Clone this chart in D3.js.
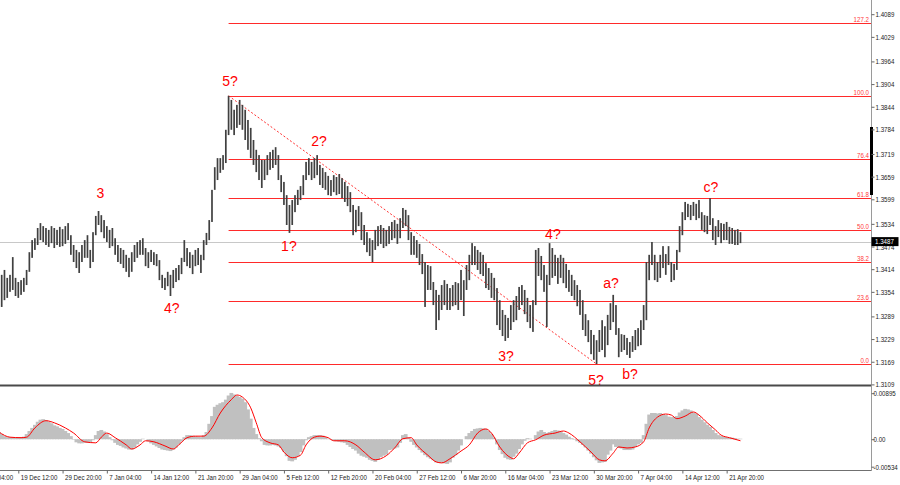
<!DOCTYPE html>
<html><head><meta charset="utf-8">
<script src="https://cdn.jsdelivr.net/npm/d3@7"></script>
<style>body{margin:0;background:#fff;}svg{display:block;font-family:"Liberation Sans",Arial,sans-serif;}</style>
</head><body><svg id="c" width="900" height="485"></svg>
<script>
// ---------- DATA ----------
const highs = [
1.3407,1.3399,1.3412,1.3391,1.3399,1.3446,1.3391,1.3380,1.3385,1.3391,
1.3412,1.3459,1.3491,1.3496,1.3523,1.3536,1.3528,1.3523,1.3518,1.3528,
1.3523,1.3518,1.3526,1.3520,1.3528,1.3536,1.3504,1.3478,1.3465,1.3459,
1.3478,1.3491,1.3504,1.3465,1.3512,1.3555,1.3568,1.3557,1.3544,1.3528,
1.3518,1.3523,1.3496,1.3478,1.3470,1.3465,1.3452,1.3444,1.3459,1.3478,
1.3486,1.3491,1.3496,1.3470,1.3459,1.3465,1.3459,1.3454,1.3438,1.3399,
1.3391,1.3407,1.3399,1.3412,1.3417,1.3425,1.3444,1.3491,1.3470,1.3459,
1.3452,1.3465,1.3470,1.3452,1.3491,1.3510,1.3544,1.3624,1.3684,1.3708,
1.3708,1.3716,1.3783,1.3873,1.3862,1.3836,1.3849,1.3862,1.3849,1.3836,
1.3809,1.3788,1.3756,1.3730,1.3716,1.3703,1.3703,1.3716,1.3724,1.3730,
1.3737,1.3716,1.3663,1.3645,1.3610,1.3584,1.3597,1.3610,1.3624,1.3634,
1.3663,1.3698,1.3708,1.3698,1.3708,1.3716,1.3690,1.3682,1.3671,1.3661,
1.3650,1.3663,1.3658,1.3666,1.3655,1.3645,1.3634,1.3618,1.3584,1.3571,
1.3581,1.3565,1.3531,1.3512,1.3496,1.3491,1.3518,1.3528,1.3531,1.3523,
1.3518,1.3528,1.3539,1.3544,1.3534,1.3549,1.3576,1.3571,1.3557,1.3512,
1.3502,1.3491,1.3481,1.3454,1.3433,1.3425,1.3422,1.3380,1.3359,1.3346,
1.3372,1.3385,1.3375,1.3364,1.3372,1.3380,1.3377,1.3412,1.3385,1.3425,
1.3452,1.3483,1.3475,1.3465,1.3459,1.3452,1.3430,1.3417,1.3404,1.3391,
1.3364,1.3332,1.3306,1.3293,1.3285,1.3319,1.3332,1.3343,1.3367,1.3372,
1.3359,1.3338,1.3319,1.3332,1.3465,1.3470,1.3449,1.3425,1.3399,1.3483,
1.3470,1.3452,1.3444,1.3452,1.3444,1.3428,1.3412,1.3399,1.3385,1.3372,
1.3359,1.3332,1.3295,1.3279,1.3253,1.3240,1.3226,1.3253,1.3279,1.3263,
1.3293,1.3324,1.3346,1.3319,1.3258,1.3242,1.3240,1.3232,1.3221,1.3237,
1.3253,1.3258,1.3279,1.3319,1.3433,1.3452,1.3486,1.3452,1.3433,1.3452,
1.3475,1.3454,1.3475,1.3433,1.3428,1.3465,1.3528,1.3565,1.3592,1.3587,
1.3584,1.3592,1.3587,1.3597,1.3565,1.3557,1.3555,1.3602,1.3549,1.3528,
1.3544,1.3536,1.3534,1.3539,1.3526,1.3523,1.3518,1.3520,1.3512];
const lows = [
1.3332,1.3314,1.3332,1.3338,1.3354,1.3359,1.3343,1.3338,1.3346,1.3354,
1.3372,1.3407,1.3444,1.3465,1.3478,1.3491,1.3486,1.3478,1.3473,1.3483,
1.3470,1.3478,1.3473,1.3475,1.3481,1.3491,1.3452,1.3433,1.3417,1.3404,
1.3433,1.3444,1.3444,1.3417,1.3433,1.3504,1.3531,1.3512,1.3496,1.3486,
1.3470,1.3475,1.3452,1.3433,1.3428,1.3417,1.3407,1.3393,1.3407,1.3433,
1.3444,1.3452,1.3452,1.3422,1.3417,1.3433,1.3425,1.3422,1.3385,1.3364,
1.3359,1.3369,1.3343,1.3364,1.3380,1.3385,1.3401,1.3433,1.3422,1.3417,
1.3401,1.3422,1.3425,1.3404,1.3438,1.3478,1.3491,1.3539,1.3624,1.3650,
1.3669,1.3677,1.3695,1.3769,1.3783,1.3769,1.3788,1.3796,1.3783,1.3756,
1.3730,1.3708,1.3690,1.3671,1.3650,1.3629,1.3650,1.3663,1.3677,1.3682,
1.3690,1.3650,1.3618,1.3584,1.3531,1.3510,1.3531,1.3565,1.3584,1.3597,
1.3610,1.3650,1.3663,1.3650,1.3655,1.3663,1.3637,1.3629,1.3624,1.3610,
1.3608,1.3618,1.3610,1.3613,1.3602,1.3592,1.3581,1.3565,1.3504,1.3512,
1.3528,1.3491,1.3478,1.3459,1.3449,1.3433,1.3465,1.3475,1.3481,1.3470,
1.3475,1.3481,1.3491,1.3496,1.3481,1.3496,1.3523,1.3528,1.3491,1.3452,
1.3452,1.3444,1.3425,1.3401,1.3314,1.3359,1.3359,1.3319,1.3253,1.3279,
1.3306,1.3319,1.3306,1.3306,1.3316,1.3319,1.3306,1.3332,1.3290,1.3359,
1.3385,1.3425,1.3425,1.3412,1.3401,1.3396,1.3364,1.3359,1.3338,1.3332,
1.3266,1.3253,1.3237,1.3224,1.3232,1.3253,1.3274,1.3279,1.3306,1.3319,
1.3295,1.3274,1.3258,1.3248,1.3319,1.3396,1.3385,1.3354,1.3261,1.3372,
1.3391,1.3396,1.3375,1.3391,1.3377,1.3364,1.3354,1.3343,1.3332,1.3316,
1.3293,1.3253,1.3237,1.3221,1.3189,1.3174,1.3163,1.3195,1.3200,1.3181,
1.3213,1.3253,1.3274,1.3240,1.3181,1.3195,1.3200,1.3187,1.3179,1.3195,
1.3200,1.3210,1.3213,1.3253,1.3279,1.3385,1.3425,1.3385,1.3380,1.3391,
1.3417,1.3399,1.3425,1.3380,1.3385,1.3412,1.3459,1.3504,1.3544,1.3552,
1.3544,1.3555,1.3544,1.3549,1.3518,1.3512,1.3507,1.3531,1.3491,1.3478,
1.3499,1.3483,1.3491,1.3491,1.3481,1.3481,1.3478,1.3478,1.3483];
const macd = [
.0014,.0010,.0006,.0004,.0004,.0004,.0004,.0004,.0004,.0005,
.0010,.0016,.0022,.0028,.0034,.0038,.0039,.0037,.0034,.0031,
.0027,.0025,.0022,.0020,.0016,.0012,.0006,-.0001,-.0006,-.0008,
-.0008,-.0007,-.0007,-.0006,-.0002,.0008,.0016,.0018,.0015,.0010,
.0004,-.0002,-.0007,-.0011,-.0013,-.0016,-.0018,-.0020,-.0020,-.0016,
-.0010,-.0005,.0001,.0000,-.0004,-.0008,-.0011,-.0014,-.0017,-.0020,
-.0021,-.0022,-.0023,-.0020,-.0016,-.0010,-.0004,.0004,.0008,.0008,
.0007,.0006,.0005,.0004,.0008,.0014,.0030,.0045,.0063,.0067,
.0070,.0072,.0077,.0085,.0090,.0087,.0084,.0082,.0079,.0072,
.0058,.0040,.0022,.0010,.0002,-.0004,-.0011,-.0012,-.0012,-.0011,
-.0012,-.0014,-.0017,-.0024,-.0033,-.0042,-.0043,-.0040,-.0033,-.0025,
-.0012,-.0002,.0004,.0006,.0008,.0008,.0008,.0007,.0004,.0001,
-.0001,-.0003,-.0004,-.0005,-.0006,-.0007,-.0011,-.0015,-.0019,-.0022,
-.0028,-.0032,-.0034,-.0036,-.0040,-.0042,-.0044,-.0040,-.0035,-.0032,
-.0030,-.0021,-.0020,-.0018,-.0016,-.0007,.0008,.0010,.0003,-.0005,
-.0011,-.0016,-.0021,-.0026,-.0031,-.0035,-.0038,-.0041,-.0045,-.0046,
-.0046,-.0047,-.0048,-.0045,-.0036,-.0031,-.0022,-.0012,.0000,.0006,
.0012,.0016,.0020,.0021,.0022,.0021,.0020,.0016,.0010,.0003,
-.0010,-.0021,-.0029,-.0036,-.0039,-.0040,-.0034,-.0028,-.0019,-.0010,
-.0003,.0002,.0001,.0000,.0008,.0015,.0018,.0014,.0012,.0014,
.0016,.0018,.0017,.0016,.0012,.0009,.0005,.0002,-.0001,-.0004,
-.0007,-.0011,-.0016,-.0022,-.0028,-.0035,-.0041,-.0046,-.0045,-.0044,
-.0030,-.0022,-.0010,-.0015,-.0017,-.0018,-.0021,-.0021,-.0021,-.0020,
-.0015,-.0010,-.0007,.0008,.0030,.0048,.0051,.0051,.0050,.0051,
.0049,.0047,.0044,.0043,.0043,.0045,.0052,.0056,.0059,.0058,
.0056,.0052,.0050,.0043,.0038,.0033,.0028,.0024,.0018,.0012,
.0008,.0006,.0005,.0004,.0003,.0003,.0002,.0001,.0001];
const sigIdx = [0,4,8,10,13,17,20,24,27,31,35,37,39,42,46,48,51,53,56,60,63,65,68,71,74,77,80,84,86,88,91,93,95,98,101,103,106,109,111,114,116,119,121,125,129,132,136,140,143,146,149,151,155,158,160,163,167,170,173,176,178,181,185,186,188,191,194,197,201,204,206,210,214,217,219,222,224,227,230,233,235,238,241,243,245,248,251,253,256,259,261,264,268];
const sigVal = [.0014,.0004,.0003,.0004,.0022,.0036,.0032,.0022,.0012,-.0005,-.0007,.0004,.0012,.0003,-.0011,-.0019,-.0011,-.0003,-.0005,-.0013,-.0019,-.0011,.0003,.0006,.0006,.0022,.0051,.0077,.0086,.0082,.0061,.0032,.0003,-.0007,-.0011,-.0025,-.0036,-.0031,-.0011,.0004,.0006,.0003,-.0003,-.0003,-.0011,-.0025,-.0040,-.0032,-.0017,.0001,.0003,-.0011,-.0031,-.0044,-.0046,-.0038,-.0023,-.0011,.0012,.0020,.0012,-.0015,-.0036,-.0038,-.0027,-.0007,-.0001,.0008,.0012,.0016,.0012,-.0005,-.0025,-.0040,-.0042,-.0027,-.0015,-.0017,-.0015,-.0005,.0022,.0043,.0049,.0047,.0040,.0045,.0053,.0047,.0032,.0018,.0008,.0003,-.0003];
const priceTicks = [1.4089,1.4029,1.3964,1.3904,1.3844,1.3784,1.3719,1.3659,1.3599,1.3534,1.3474,1.3414,1.3354,1.3289,1.3229,1.3169,1.3109];
const macdTicks = [0.00895, 0, -0.00534];
const macdTickLabels = ["0.00895","0.00","-0.00534"];
const timeTickIdx = [-9,7,23,39,55,71,87,103,119,135,151,167,183,199,215,231,247,263];
const timeLabels = ["12 Dec 04:00","19 Dec 12:00","29 Dec 20:00","7 Jan 04:00","14 Jan 12:00","21 Jan 20:00","29 Jan 04:00","5 Feb 12:00","12 Feb 20:00","20 Feb 04:00","27 Feb 12:00","6 Mar 20:00","16 Mar 04:00","23 Mar 12:00","30 Mar 20:00","7 Apr 04:00","14 Apr 12:00","21 Apr 20:00"];
const fibLevels = [0, 23.6, 38.2, 50, 61.8, 76.4, 100, 127.2];
const fibLabels = ["0.0","23.6","38.2","50.0","61.8","76.4","100.0","127.2"];
const fibHighIdx = 83, fibLowIdx = 216;
const waveText = ["3","4?","5?","1?","2?","3?","4?","5?","a?","b?","c?"];
const waveIdx = [36.7,62.5,83.5,104.8,115.7,183.3,200.2,215.8,221.2,228.1,257.3];
const wavePrice = [1.3602,1.3298,1.3899,1.3462,1.3740,1.3171,1.3494,1.3107,1.3364,1.3123,1.3618];
const lastPrice = 1.3487;

// ---------- LAYOUT ----------
const svg = d3.select("#c");
const W = 871;
const x = d3.scaleLinear().domain([0, 268]).range([-1.07, -1.07 + 268 * 2.767]);
const y = d3.scaleLinear().domain([1.3109, 1.4089]).range([384.4, 14.2]);
const yM = d3.scaleLinear().domain([-0.00534, 0.00895]).range([466.7, 393.2]);
const red = "#ff0000";

svg.append("defs").html('<clipPath id="cm"><rect x="0" y="0" width="871" height="385"/></clipPath><clipPath id="cs"><rect x="0" y="387" width="871" height="83"/></clipPath>');

const main = svg.append("g").attr("clip-path", "url(#cm)");

// fib lines
const fLo = lows[fibLowIdx], fHi = highs[fibHighIdx];
fibLevels.forEach((lv, k) => {
  const p = fLo + (fHi - fLo) * lv / 100;
  const yy = Math.round(y(p)) + 0.5;
  main.append("line").attr("x1", x(fibHighIdx)).attr("x2", W).attr("y1", yy).attr("y2", yy)
    .attr("stroke", "#ff2a2a").attr("stroke-width", 1.1);
  svg.append("text").attr("transform", `translate(869,${yy - 1.5}) scale(0.77,1)`)
    .attr("text-anchor", "end").attr("font-size", 8).attr("fill", "#ff3b3b").text(fibLabels[k]);
});

// current price line
const yl = Math.round(y(lastPrice)) + 0.5;
main.append("line").attr("x1", 0).attr("x2", W).attr("y1", yl).attr("y2", yl).attr("stroke", "#c8c8c8").attr("stroke-width", 1);

// trend line
main.append("line").attr("x1", x(fibHighIdx)).attr("y1", y(fHi)).attr("x2", x(fibLowIdx)).attr("y2", y(fLo))
  .attr("stroke", "#ff3030").attr("stroke-width", 1).attr("stroke-dasharray", "2,2");

// bars
main.append("g").selectAll("rect").data(d3.range(highs.length)).join("rect")
  .attr("x", i => x(i) - 0.85).attr("width", 1.7)
  .attr("y", i => y(highs[i])).attr("height", i => Math.max(1, y(lows[i]) - y(highs[i])))
  .attr("fill", "#404040");

// wave labels
svg.append("g").selectAll("text").data(waveText).join("text")
  .attr("x", (d, k) => x(waveIdx[k])).attr("y", (d, k) => y(wavePrice[k]))
  .attr("text-anchor", "middle").attr("font-size", 14).attr("fill", red).text(d => d);

// ---------- MACD panel ----------
const sub = svg.append("g").attr("clip-path", "url(#cs)");
sub.append("g").selectAll("rect").data(d3.range(macd.length)).join("rect")
  .attr("x", i => x(i) - 1.9).attr("width", 3.8)
  .attr("y", i => Math.min(yM(macd[i]), yM(0))).attr("height", i => Math.abs(yM(macd[i]) - yM(0)))
  .attr("fill", "#c0c0c0");
const sig = sigIdx.map((i, k) => [i, sigVal[k]]);
sub.append("path").datum(sig).attr("fill", "none").attr("stroke", red).attr("stroke-width", 1)
  .attr("d", d3.line().x(d => x(d[0])).y(d => yM(d[1])).curve(d3.curveMonotoneX));

// frame lines
svg.append("line").attr("x1", 0).attr("x2", W).attr("y1", 385.5).attr("y2", 385.5).attr("stroke", "#4a4a4a").attr("stroke-width", 2);
svg.append("line").attr("x1", 0).attr("x2", W + 0.5).attr("y1", 470.5).attr("y2", 470.5).attr("stroke", "#707070").attr("stroke-width", 1);
svg.append("line").attr("x1", W + 0.5).attr("x2", W + 0.5).attr("y1", 0).attr("y2", 471).attr("stroke", "#9a9a9a").attr("stroke-width", 1);
svg.append("rect").attr("x", W - 1).attr("y", 127).attr("width", 3).attr("height", 68).attr("fill", "#000");

// price axis
const pAx = svg.append("g").attr("transform", `translate(${W + 0.5},0)`)
  .call(d3.axisRight(y).tickValues(priceTicks).tickFormat(d3.format(".4f")).tickSize(3));
pAx.select(".domain").remove();
pAx.selectAll("line").attr("stroke", "#666");
pAx.selectAll("text").attr("x", null).attr("dy", "0.32em").attr("font-size", 8).attr("font-family", "Liberation Sans, Arial, sans-serif")
  .attr("transform", "translate(4,0) scale(0.77,1)").attr("fill", "#222");

// macd axis
const mAx = svg.append("g").attr("transform", `translate(${W + 0.5},0)`)
  .call(d3.axisRight(yM).tickValues(macdTicks).tickFormat((d, k) => macdTickLabels[k]).tickSize(3));
mAx.select(".domain").remove();
mAx.selectAll("line").attr("stroke", "#666");
mAx.selectAll("text").attr("x", null).attr("dy", "0.32em").attr("font-size", 8).attr("font-family", "Liberation Sans, Arial, sans-serif")
  .attr("transform", "translate(2,0) scale(0.77,1)").attr("fill", "#222");

// last price tag
svg.append("rect").attr("x", W + 0.5).attr("y", y(lastPrice) - 4.5).attr("width", 27).attr("height", 9).attr("fill", "#000");
svg.append("text").attr("transform", `translate(${W + 4},${y(lastPrice)}) scale(0.77,1)`).attr("dy", "0.34em")
  .attr("font-size", 8).attr("fill", "#fff").text(d3.format(".4f")(lastPrice));

// time axis
const tAx = svg.append("g").attr("transform", "translate(0,470.5)")
  .call(d3.axisBottom(x).tickValues(timeTickIdx).tickFormat((d, k) => timeLabels[k]).tickSize(3));
tAx.select(".domain").remove();
tAx.selectAll("line").attr("stroke", "#666");
tAx.selectAll("text").attr("y", null).attr("dy", null).attr("text-anchor", "start").attr("font-size", 8)
  .attr("font-family", "Liberation Sans, Arial, sans-serif").attr("fill", "#222")
  .attr("transform", "translate(2,9) scale(0.77,1)");
</script></body></html>
